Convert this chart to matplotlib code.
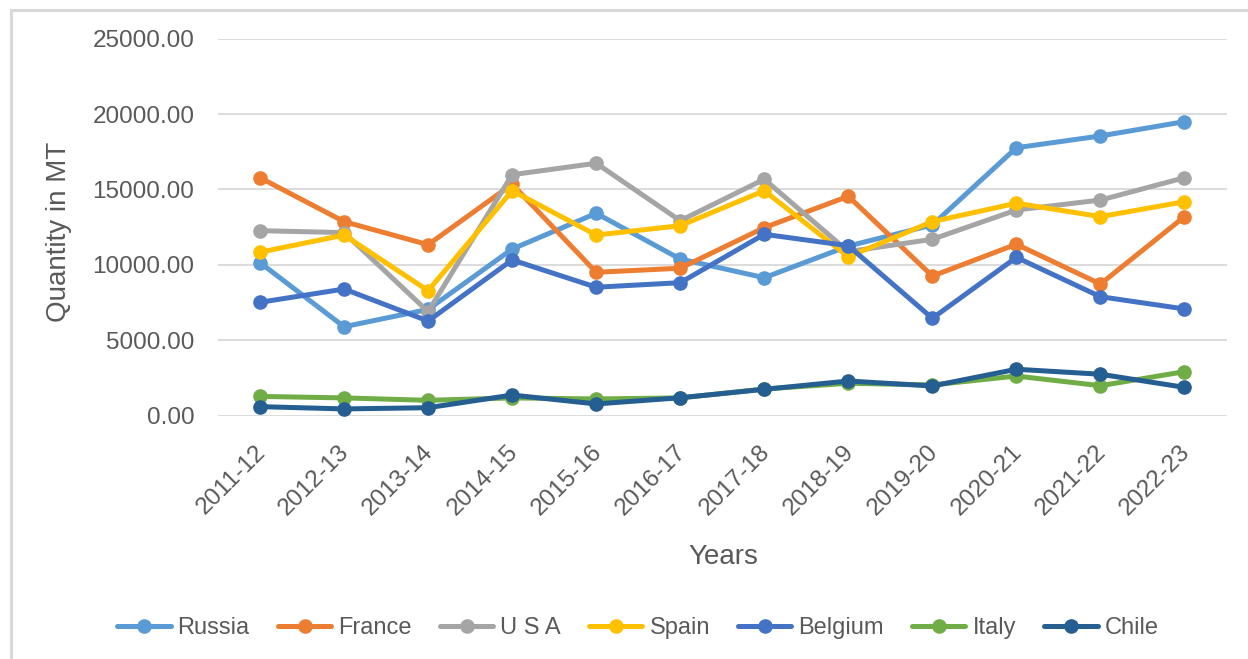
import matplotlib
matplotlib.use("Agg")
import matplotlib.pyplot as plt
from matplotlib.patches import Rectangle
from matplotlib.transforms import ScaledTranslation

years = ["2011-12", "2012-13", "2013-14", "2014-15", "2015-16", "2016-17",
         "2017-18", "2018-19", "2019-20", "2020-21", "2021-22", "2022-23"]

russia  = [10150, 5900, 7050, 11050, 13420, 10390, 9150, 11250, 12650, 17770, 18550, 19500]
france  = [15780, 12870, 11340, 15350, 9510, 9780, 12470, 14550, 9260, 11370, 8730, 13200]
usa     = [12270, 12140, 6900, 15980, 16740, 12930, 15680, 10880, 11700, 13640, 14300, 15780]
spain   = [10840, 11980, 8290, 14920, 11980, 12600, 14920, 10540, 12870, 14090, 13200, 14190]
belgium = [7520, 8400, 6280, 10330, 8520, 8820, 12030, 11270, 6460, 10500, 7890, 7080]
italy   = [1280, 1180, 1020, 1180, 1110, 1180, 1770, 2150, 2040, 2630, 1990, 2920]
chile   = [600, 450, 530, 1370, 780, 1190, 1750, 2300, 1970, 3080, 2750, 1880]

series = [("Russia", russia, "#5B9BD5"),
          ("France", france, "#ED7D31"),
          ("U S A", usa, "#A5A5A5"),
          ("Spain", spain, "#FFC000"),
          ("Belgium", belgium, "#4472C4"),
          ("Italy", italy, "#70AD47"),
          ("Chile", chile, "#255E91")]

TXT = "#595959"
plt.rcParams['font.family'] = ['Liberation Sans', 'DejaVu Sans']

W, H = 1248, 659
fig = plt.figure(figsize=(W / 100, H / 100), dpi=100)
fig.patches.append(Rectangle((11 / W, -0.1), 1.2, 1 - 10 / H + 0.1, transform=fig.transFigure,
                             fill=False, edgecolor="#D9D9D9", linewidth=2.2, zorder=0))

ax = fig.add_axes([218 / W, 1 - 415.7 / H, (1226.5 - 218) / W, (415.7 - 38.7) / H])
x = list(range(len(years)))
for name, vals, col in series:
    ax.plot(x, vals, color=col, linewidth=3.6, marker='o', markersize=9.5, label=name,
            solid_capstyle='round', clip_on=False)

ax.set_xlim(-0.5, len(years) - 0.5)
ax.set_ylim(0, 25000)
ax.set_yticks([0, 5000, 10000, 15000, 20000, 25000])
ax.set_yticklabels([f"{v:.2f}" for v in [0, 5000, 10000, 15000, 20000, 25000]])
ax.grid(axis='y', color="#D9D9D9", linewidth=1.3)
ax.set_axisbelow(True)
for s in ax.spines.values():
    s.set_visible(False)
ax.tick_params(axis='both', length=0, labelsize=17.5, labelcolor=TXT)
ax.tick_params(axis='y', pad=17)
ax.set_xticks(x)
ax.set_xticklabels(years, rotation=45, ha='right', rotation_mode='anchor', va='center')
ax.tick_params(axis='x', pad=24)
off = ScaledTranslation(2 / 100, 0, fig.dpi_scale_trans)
for lbl in ax.get_xticklabels():
    lbl.set_transform(lbl.get_transform() + off)

fig.text(59 / W, 1 - 232 / H, "Quantity in MT", rotation=90, ha='center', va='center',
         fontsize=20, color=TXT)
fig.text(723 / W, 1 - 557 / H, "Years", ha='center', va='center', fontsize=20, color=TXT)

leg = fig.legend(loc='center', bbox_to_anchor=(638 / W, 1 - 628 / H), ncol=7, frameon=False,
                 fontsize=17, handlelength=2.25, handletextpad=0.3, columnspacing=1.2,
                 labelcolor=TXT)

fig.savefig("out.png", dpi=100)
